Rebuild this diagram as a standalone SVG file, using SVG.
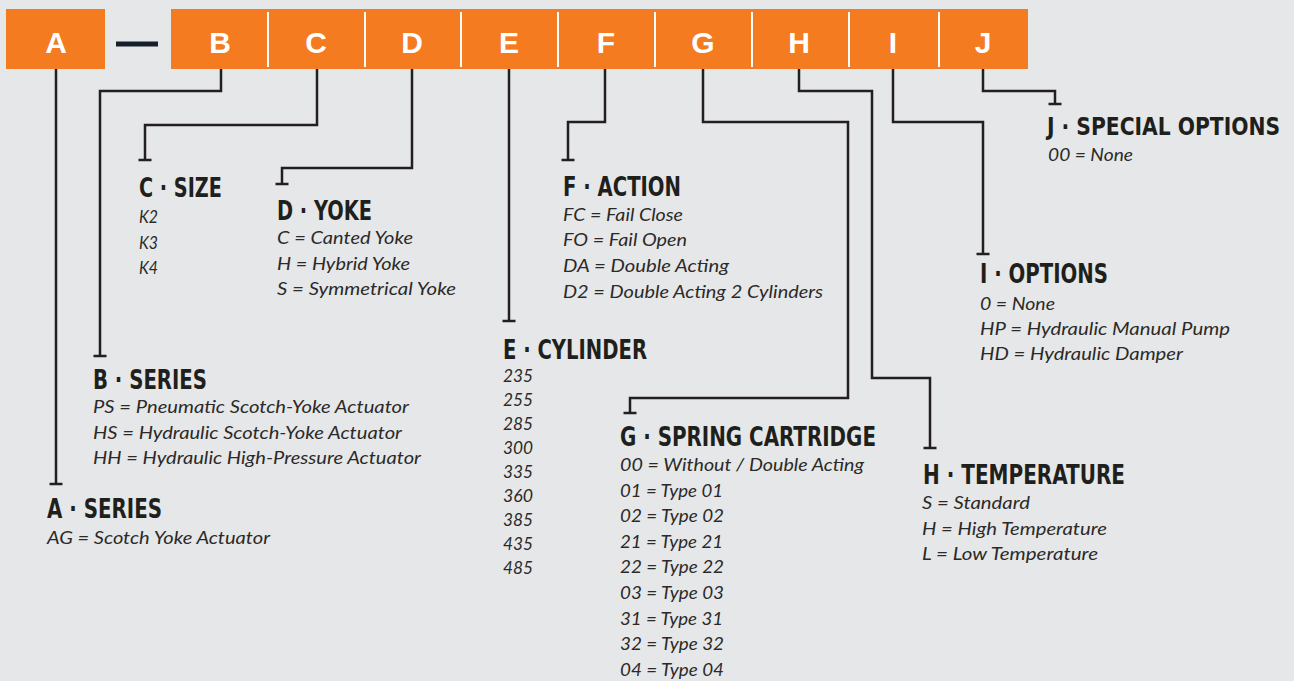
<svg xmlns="http://www.w3.org/2000/svg" width="1294" height="681" viewBox="0 0 1294 681">
<style>
.bar{fill:#f47b20}
.div{stroke:#ffffff;stroke-width:2}
.code{font-family:"Liberation Sans",Arial,sans-serif;font-weight:bold;font-size:30px;fill:#ffffff;text-anchor:middle}
.h{font-family:"Liberation Sans Narrow","DejaVu Sans Condensed","Liberation Sans",sans-serif;font-weight:bold;font-size:26px;fill:#1f1f1c}
.t{font-family:Lato,"Open Sans","Liberation Sans",sans-serif;font-style:italic;font-weight:400;font-size:17px;fill:#2b2a28}
.conn{fill:none;stroke:#231f20;stroke-width:2.5;stroke-linejoin:miter;stroke-linecap:butt;marker-end:url(#tee)}
</style>
<defs>
<marker id="tee" markerUnits="userSpaceOnUse" markerWidth="4" markerHeight="16" viewBox="-2 -8 4 16" refX="0" refY="0" orient="auto">
<path d="M0,-6.5V6.5" stroke="#231f20" stroke-width="2.5"/>
</marker>
</defs>
<rect width="1294" height="681" fill="#e6e7e8"/>

<g id="code-bar">
<rect class="bar" x="6" y="9" width="99" height="60"/>
<rect x="116" y="41.5" width="42" height="5" fill="#15202b"/>
<rect class="bar" x="171" y="9" width="857" height="60"/>
<line class="div" x1="268" y1="12" x2="268" y2="67"/>
<line class="div" x1="365" y1="12" x2="365" y2="67"/>
<line class="div" x1="461" y1="12" x2="461" y2="67"/>
<line class="div" x1="558" y1="12" x2="558" y2="67"/>
<line class="div" x1="655" y1="12" x2="655" y2="67"/>
<line class="div" x1="752" y1="12" x2="752" y2="67"/>
<line class="div" x1="849" y1="12" x2="849" y2="67"/>
<line class="div" x1="939" y1="12" x2="939" y2="67"/>
<text class="code" x="56" y="53">A</text>
<text class="code" x="220" y="53">B</text>
<text class="code" x="316" y="53">C</text>
<text class="code" x="412" y="53">D</text>
<text class="code" x="509" y="53">E</text>
<text class="code" x="606" y="53">F</text>
<text class="code" x="703" y="53">G</text>
<text class="code" x="799" y="53">H</text>
<text class="code" x="893" y="53">I</text>
<text class="code" x="983" y="53">J</text>
</g>

<g id="connectors">
<path class="conn" d="M56,69V484"/>
<path class="conn" d="M221,69V91H100V356"/>
<path class="conn" d="M317,69V125H145V160"/>
<path class="conn" d="M412,69V168H282V184"/>
<path class="conn" d="M509,69V321"/>
<path class="conn" d="M605,69V122H568V160"/>
<path class="conn" d="M703,69V122H848V398H630V413"/>
<path class="conn" d="M799,69V91H872V378H930V448"/>
<path class="conn" d="M893,69V122H983V254"/>
<path class="conn" d="M983,69V91H1055V104"/>
</g>

<g id="sec-A">
<text class="h" x="47" y="518" textLength="115" lengthAdjust="spacingAndGlyphs">A · SERIES</text>
<text class="t" x="47" y="544" textLength="223" lengthAdjust="spacingAndGlyphs">AG = Scotch Yoke Actuator</text>
</g>

<g id="sec-B">
<text class="h" x="93" y="389" textLength="114" lengthAdjust="spacingAndGlyphs">B · SERIES</text>
<text class="t" x="93" y="413" textLength="316" lengthAdjust="spacingAndGlyphs">PS = Pneumatic Scotch-Yoke Actuator</text>
<text class="t" x="93" y="439" textLength="309" lengthAdjust="spacingAndGlyphs">HS = Hydraulic Scotch-Yoke Actuator</text>
<text class="t" x="93" y="464" textLength="328" lengthAdjust="spacingAndGlyphs">HH = Hydraulic High-Pressure Actuator</text>
</g>

<g id="sec-C">
<text class="h" x="139" y="197" textLength="83" lengthAdjust="spacingAndGlyphs">C · SIZE</text>
<text class="t" x="139" y="223" textLength="19" lengthAdjust="spacingAndGlyphs">K2</text>
<text class="t" x="139" y="249" textLength="19" lengthAdjust="spacingAndGlyphs">K3</text>
<text class="t" x="139" y="274" textLength="19" lengthAdjust="spacingAndGlyphs">K4</text>
</g>

<g id="sec-D">
<text class="h" x="277" y="220" textLength="95" lengthAdjust="spacingAndGlyphs">D · YOKE</text>
<text class="t" x="277" y="244" textLength="136" lengthAdjust="spacingAndGlyphs">C = Canted Yoke</text>
<text class="t" x="277" y="270" textLength="133" lengthAdjust="spacingAndGlyphs">H = Hybrid Yoke</text>
<text class="t" x="277" y="295" textLength="179" lengthAdjust="spacingAndGlyphs">S = Symmetrical Yoke</text>
</g>

<g id="sec-E">
<text class="h" x="503" y="359" textLength="144" lengthAdjust="spacingAndGlyphs">E · CYLINDER</text>
<text class="t" x="503" y="382" textLength="30" lengthAdjust="spacingAndGlyphs">235</text>
<text class="t" x="503" y="406" textLength="30" lengthAdjust="spacingAndGlyphs">255</text>
<text class="t" x="503" y="430" textLength="30" lengthAdjust="spacingAndGlyphs">285</text>
<text class="t" x="503" y="454" textLength="30" lengthAdjust="spacingAndGlyphs">300</text>
<text class="t" x="503" y="478" textLength="30" lengthAdjust="spacingAndGlyphs">335</text>
<text class="t" x="503" y="502" textLength="30" lengthAdjust="spacingAndGlyphs">360</text>
<text class="t" x="503" y="526" textLength="30" lengthAdjust="spacingAndGlyphs">385</text>
<text class="t" x="503" y="550" textLength="30" lengthAdjust="spacingAndGlyphs">435</text>
<text class="t" x="503" y="574" textLength="30" lengthAdjust="spacingAndGlyphs">485</text>
</g>

<g id="sec-F">
<text class="h" x="563" y="196" textLength="118" lengthAdjust="spacingAndGlyphs">F · ACTION</text>
<text class="t" x="563" y="221" textLength="120" lengthAdjust="spacingAndGlyphs">FC = Fail Close</text>
<text class="t" x="563" y="246" textLength="124" lengthAdjust="spacingAndGlyphs">FO = Fail Open</text>
<text class="t" x="563" y="272" textLength="166" lengthAdjust="spacingAndGlyphs">DA = Double Acting</text>
<text class="t" x="563" y="298" textLength="260" lengthAdjust="spacingAndGlyphs">D2 = Double Acting 2 Cylinders</text>
</g>

<g id="sec-G">
<text class="h" x="620" y="446" textLength="256" lengthAdjust="spacingAndGlyphs">G · SPRING CARTRIDGE</text>
<text class="t" x="620" y="471" textLength="244" lengthAdjust="spacingAndGlyphs">00 = Without / Double Acting</text>
<text class="t" x="620" y="497" textLength="103" lengthAdjust="spacingAndGlyphs">01 = Type 01</text>
<text class="t" x="620" y="522" textLength="104" lengthAdjust="spacingAndGlyphs">02 = Type 02</text>
<text class="t" x="620" y="548" textLength="103" lengthAdjust="spacingAndGlyphs">21 = Type 21</text>
<text class="t" x="620" y="573" textLength="104" lengthAdjust="spacingAndGlyphs">22 = Type 22</text>
<text class="t" x="620" y="599" textLength="104" lengthAdjust="spacingAndGlyphs">03 = Type 03</text>
<text class="t" x="620" y="625" textLength="103" lengthAdjust="spacingAndGlyphs">31 = Type 31</text>
<text class="t" x="620" y="650" textLength="104" lengthAdjust="spacingAndGlyphs">32 = Type 32</text>
<text class="t" x="620" y="676" textLength="104" lengthAdjust="spacingAndGlyphs">04 = Type 04</text>
</g>

<g id="sec-H">
<text class="h" x="923" y="484" textLength="202" lengthAdjust="spacingAndGlyphs">H · TEMPERATURE</text>
<text class="t" x="922" y="509" textLength="108" lengthAdjust="spacingAndGlyphs">S = Standard</text>
<text class="t" x="922" y="535" textLength="185" lengthAdjust="spacingAndGlyphs">H = High Temperature</text>
<text class="t" x="922" y="560" textLength="176" lengthAdjust="spacingAndGlyphs">L = Low Temperature</text>
</g>

<g id="sec-I">
<text class="h" x="980" y="283" textLength="128" lengthAdjust="spacingAndGlyphs">I · OPTIONS</text>
<text class="t" x="980" y="310" textLength="75" lengthAdjust="spacingAndGlyphs">0 = None</text>
<text class="t" x="980" y="335" textLength="250" lengthAdjust="spacingAndGlyphs">HP = Hydraulic Manual Pump</text>
<text class="t" x="980" y="360" textLength="203" lengthAdjust="spacingAndGlyphs">HD = Hydraulic Damper</text>
</g>

<g id="sec-J">
<text class="h" x="1047" y="135" style="font-size:24px" textLength="233" lengthAdjust="spacingAndGlyphs">J · SPECIAL OPTIONS</text>
<text class="t" x="1048" y="161" textLength="85" lengthAdjust="spacingAndGlyphs">00 = None</text>
</g>
</svg>
